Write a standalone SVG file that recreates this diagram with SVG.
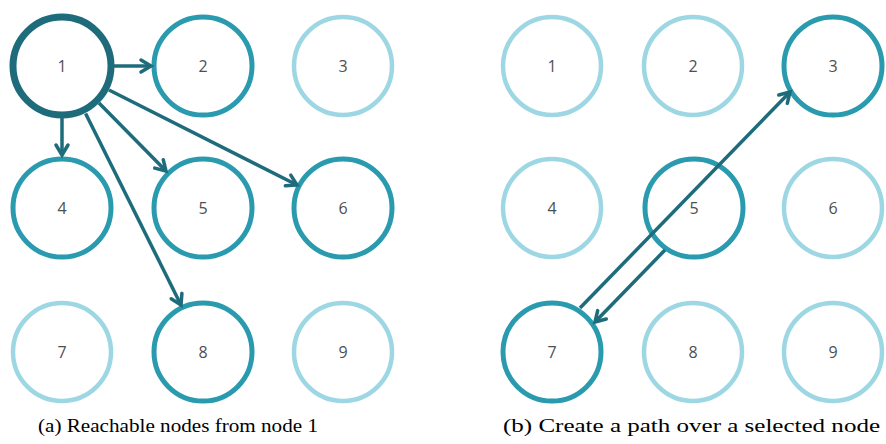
<svg xmlns="http://www.w3.org/2000/svg" width="886" height="444" viewBox="0 0 886 444">
<style>
circle{fill:#fff}
.l{stroke:#9dd7e3;stroke-width:4.5}
.m{stroke:#2a9aae;stroke-width:5}
.d{stroke:#1e6c7b;stroke-width:7}
.t{font-family:"Open Sans","Liberation Sans",sans-serif;font-size:16px;fill:#4f4f4f;text-anchor:middle}
.c{font-family:"Liberation Serif","DejaVu Serif",serif;font-size:19px;fill:#000}
.e{stroke:#1e6c7b;stroke-width:3.5;fill:none;marker-end:url(#ah)}
</style>
<defs>
<marker id="ah" markerUnits="userSpaceOnUse" markerWidth="16" markerHeight="16" refX="12" refY="7" orient="auto" overflow="visible">
<path d="M2,1 L12,7 L2,13" fill="none" stroke="#1e6c7b" stroke-width="3.5" stroke-linecap="round" stroke-linejoin="miter"/>
</marker>
</defs>
<g id="a1"><circle class="d" cx="62" cy="66" r="49"/><text class="t" x="62" y="72">1</text></g>
<g id="a2"><circle class="m" cx="203" cy="66" r="49"/><text class="t" x="203" y="72">2</text></g>
<g id="a3"><circle class="l" cx="343" cy="66" r="49"/><text class="t" x="343" y="72">3</text></g>
<g id="a4"><circle class="m" cx="62" cy="208" r="49"/><text class="t" x="62" y="214">4</text></g>
<g id="a5"><circle class="m" cx="203" cy="208" r="49"/><text class="t" x="203" y="214">5</text></g>
<g id="a6"><circle class="m" cx="343" cy="208" r="49"/><text class="t" x="343" y="214">6</text></g>
<g id="a7"><circle class="l" cx="62" cy="352" r="49"/><text class="t" x="62" y="358">7</text></g>
<g id="a8"><circle class="m" cx="203" cy="352" r="49"/><text class="t" x="203" y="358">8</text></g>
<g id="a9"><circle class="l" cx="343" cy="352" r="49"/><text class="t" x="343" y="358">9</text></g>
<g id="b1"><circle class="l" cx="552" cy="66" r="49"/><text class="t" x="552" y="72">1</text></g>
<g id="b2"><circle class="l" cx="693" cy="66" r="49"/><text class="t" x="693" y="72">2</text></g>
<g id="b3"><circle class="m" cx="833" cy="66" r="49"/><text class="t" x="833" y="72">3</text></g>
<g id="b4"><circle class="l" cx="552" cy="208" r="49"/><text class="t" x="552" y="214">4</text></g>
<g id="b5"><circle class="m" cx="694" cy="208" r="49"/><text class="t" x="694" y="214">5</text></g>
<g id="b6"><circle class="l" cx="833" cy="208" r="49"/><text class="t" x="833" y="214">6</text></g>
<g id="b7"><circle class="m" cx="552" cy="352" r="49"/><text class="t" x="552" y="358">7</text></g>
<g id="b8"><circle class="l" cx="693" cy="352" r="49"/><text class="t" x="693" y="358">8</text></g>
<g id="b9"><circle class="l" cx="833" cy="352" r="49"/><text class="t" x="833" y="358">9</text></g>
<g id="edges">
<line class="e" x1="114" y1="66" x2="151" y2="66"/>
<line class="e" x1="62" y1="118" x2="62" y2="155"/>
<line class="e" x1="99" y1="103" x2="166" y2="171"/>
<line class="e" x1="109" y1="90" x2="297" y2="185"/>
<line class="e" x1="85.6" y1="113.5" x2="181" y2="305"/>
<line class="e" x1="580" y1="308" x2="790" y2="92"/>
<line class="e" x1="665" y1="250" x2="595" y2="322"/>
</g>
<text class="c" x="38" y="432" textLength="280" lengthAdjust="spacingAndGlyphs">(a) Reachable nodes from node 1</text>
<text class="c" x="503" y="432" textLength="377" lengthAdjust="spacingAndGlyphs">(b) Create a path over a selected node</text>
</svg>
